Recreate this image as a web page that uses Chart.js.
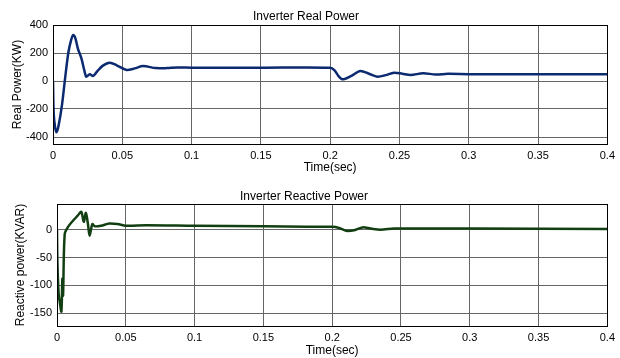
<!DOCTYPE html>
<html>
<head>
<meta charset="utf-8">
<script src="https://cdn.jsdelivr.net/npm/chart.js@4/dist/chart.umd.min.js"></script>
<style>
  html, body { margin: 0; padding: 0; background: #fff; }
  #wrap { position: relative; width: 620px; height: 358px; }
  canvas { position: absolute; left: 0; }
</style>
</head>
<body>
<div id="wrap">
  <canvas id="realChart" width="620" height="180" style="top:0"></canvas>
  <canvas id="reactChart" width="620" height="178" style="top:180px"></canvas>
</div>
<script>
// time axis ticks (sec)
const timeTicks = [0, 0.05, 0.1, 0.15, 0.2, 0.25, 0.3, 0.35, 0.4];

// Inverter real power (KW)
const tReal = [0, 0.0005, 0.0015, 0.0026, 0.004, 0.0065, 0.0086, 0.011, 0.013, 0.0145, 0.016, 0.018,
  0.0205, 0.0225, 0.024, 0.0265, 0.029, 0.032, 0.036, 0.041, 0.046, 0.053, 0.059, 0.065, 0.074,
  0.082, 0.09, 0.1, 0.15, 0.2, 0.203, 0.206, 0.209, 0.215, 0.2216, 0.228, 0.234, 0.24, 0.246,
  0.252, 0.258, 0.267, 0.276, 0.285, 0.3, 0.35, 0.4];
const pReal = [0, -230, -330, -365, -320, -170, 8, 198, 290, 329, 310, 230,
  162, 80, 31, 48, 36, 70, 110, 131, 112, 79, 90, 107, 92,
  92, 97, 95, 95, 95, 78, 35, 12, 35, 71, 52, 31, 42, 59,
  52, 43, 55, 47, 51, 49, 48, 48];
const realTicks = [-400, -200, 0, 200, 400];

// Inverter reactive power (KVAR)
const tReact = [0, 0.0003, 0.0012, 0.002, 0.0032, 0.0039, 0.0044, 0.0056, 0.008, 0.0116, 0.015,
  0.0177, 0.0194, 0.021, 0.0225, 0.0237, 0.0257, 0.0274, 0.032, 0.038, 0.044, 0.05, 0.065, 0.1,
  0.15, 0.2, 0.205, 0.21, 0.216, 0.222, 0.228, 0.235, 0.245, 0.26, 0.3, 0.4];
const qReact = [0, -58, -115, -130, -147, -88, -118, -8, 5, 16, 25,
  32, 14, 30, 10, -11, 10, 6, 7, 11, 10, 7, 8, 7,
  6, 5, 3, -2, -1, 4, 2, 0, 2, 2, 2, 1];
const reactTicks = [-150, -100, -50, 0];

const FONT = 'Liberation Sans, Arial, sans-serif';

// black box round the plot area
const boxPlugin = {
  id: 'box',
  afterDraw(chart) {
    const a = chart.chartArea, ctx = chart.ctx;
    ctx.save();
    ctx.strokeStyle = '#000';
    ctx.lineWidth = 1;
    ctx.strokeRect(Math.round(a.left) + 0.5, Math.round(a.top) + 0.5,
      Math.round(a.right - a.left), Math.round(a.bottom - a.top));
    ctx.restore();
  }
};

const makeChart = (id, cfg) => {
  const pts = cfg.t.map((t, i) => ({ x: t, y: cfg.v[i] }));
  return new Chart(document.getElementById(id), {
    type: 'line',
    data: {
      datasets: [{
        data: pts,
        borderColor: cfg.color,
        borderWidth: 2.5,
        pointRadius: 0,
        tension: 0.3,
        fill: false
      }]
    },
    options: {
      responsive: false,
      animation: false,
      layout: { padding: { left: 0, right: cfg.right, top: 0, bottom: 0 } },
      plugins: {
        legend: { display: false },
        tooltip: { enabled: false },
        title: {
          display: true,
          text: cfg.title,
          color: '#000',
          font: { family: FONT, size: 12, weight: 'normal' },
          padding: { top: 9, bottom: cfg.titleBottom }
        }
      },
      scales: {
        x: {
          type: 'linear',
          min: 0, max: 0.4,
          afterBuildTicks: s => { s.ticks = timeTicks.map(v => ({ value: v })); },
          afterFit: s => { s.height = cfg.xHeight; },
          grid: { color: '#666', lineWidth: 1, drawTicks: false },
          border: { color: '#000' },
          ticks: {
            padding: 5,
            color: '#000',
            maxRotation: 0,
            font: { family: FONT, size: 11 },
            callback: v => String(Number(v.toFixed(2)))
          },
          title: {
            display: true,
            text: 'Time(sec)',
            color: '#000',
            font: { family: FONT, size: 12 },
            padding: { top: 0, bottom: cfg.xTitleBottom }
          }
        },
        y: {
          min: cfg.min, max: cfg.max,
          afterBuildTicks: s => { s.ticks = cfg.ticks.map(v => ({ value: v })); },
          afterFit: s => { s.width = cfg.yWidth; },
          grid: { color: '#666', lineWidth: 1, drawTicks: false },
          border: { color: '#000' },
          ticks: {
            padding: 5,
            color: '#000',
            font: { family: FONT, size: 11 }
          },
          title: {
            display: true,
            text: cfg.yTitle,
            color: '#000',
            font: { family: FONT, size: 12 },
            padding: { top: cfg.yTitleTop, bottom: 0 }
          }
        }
      }
    },
    plugins: [boxPlugin]
  });
};

makeChart('realChart', {
  t: tReal, v: pReal, color: '#0c2a70',
  title: 'Inverter Real Power', titleBottom: 1.6,
  min: -450, max: 400, ticks: realTicks,
  yTitle: 'Real Power(KW)', yTitleTop: 10, yWidth: 53, right: 8,
  xHeight: 36, xTitleBottom: 5
});

makeChart('reactChart', {
  t: tReact, v: qReact, color: '#123f12',
  title: 'Inverter Reactive Power', titleBottom: 0.6,
  min: -173, max: 46, ticks: reactTicks,
  yTitle: 'Reactive power(KVAR)', yTitleTop: 13, yWidth: 57, right: 12,
  xHeight: 32, xTitleBottom: 0
});
</script>
</body>
</html>
